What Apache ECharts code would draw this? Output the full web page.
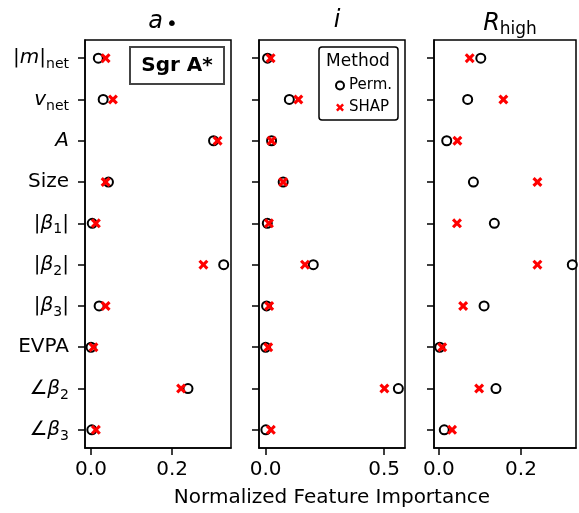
<!DOCTYPE html>
<html>
<head>
<meta charset="utf-8">
<script src="https://cdn.jsdelivr.net/npm/echarts@6/dist/echarts.min.js"></script>
<style>
  html, body { margin: 0; padding: 0; background: #fff; }
  #chart { width: 579px; height: 513px; }
</style>
</head>
<body>
<div id="chart"></div>
<script>
// feature labels, top to bottom (rich text)
const featureLabels = [
  "{n||}{i|m}{n||}{s|net}",
  "{i|v}{s|net}",
  "{i|A}",
  "{n|Size}",
  "{n||}{i|β}{s|1}{n||}",
  "{n||}{i|β}{s|2}{n||}",
  "{n||}{i|β}{s|3}{n||}",
  "{n|EVPA}",
  "{n|∠}{i|β}{s|2}",
  "{n|∠}{i|β}{s|3}"
];

// spin a
const permSpin = [0.018, 0.030, 0.302, 0.043, 0.003, 0.327, 0.020, 0.000, 0.239, 0.002];
const shapSpin = [0.036, 0.054, 0.312, 0.036, 0.012, 0.277, 0.036, 0.006, 0.222, 0.012];
// inclination i
const permInc = [0.008, 0.100, 0.025, 0.074, 0.007, 0.201, 0.004, 0.000, 0.560, 0.001];
const shapInc = [0.021, 0.138, 0.025, 0.074, 0.014, 0.166, 0.015, 0.011, 0.501, 0.022];
// R_high
const permRh = [0.102, 0.070, 0.019, 0.084, 0.135, 0.325, 0.110, 0.002, 0.139, 0.013];
const shapRh = [0.075, 0.157, 0.045, 0.240, 0.044, 0.240, 0.059, 0.008, 0.098, 0.032];

const xTicks = [[0, 0.2], [0, 0.5], [0, 0.2]];
const xRanges = [[-0.0148, 0.345], [-0.028, 0.588], [-0.012, 0.334]];

const panels = [
  { left: 85, width: 146, perm: permSpin, shap: shapSpin, title: "{i|a}{d|•}" },
  { left: 259, width: 146, perm: permInc, shap: shapInc, title: "{i|i}" },
  { left: 434, width: 142, perm: permRh, shap: shapRh, title: "{i|R}{s|high}" }
];

const font = "DejaVu Sans";
const xShape = "path://M0,2.2 L2.2,0 L5,2.8 L7.8,0 L10,2.2 L7.2,5 L10,7.8 L7.8,10 L5,7.2 L2.2,10 L0,7.8 L2.8,5 Z";

const labelRich = {
  n: { fontFamily: font, fontSize: 20, color: "#000" },
  i: { fontFamily: font, fontSize: 20, fontStyle: "italic", color: "#000" },
  s: { fontFamily: font, fontSize: 14, color: "#000", padding: [13, 0, 0, 0] }
};
const titleRich = {
  i: { fontFamily: font, fontSize: 24, fontStyle: "italic", fontWeight: "normal", color: "#000" },
  s: { fontFamily: font, fontSize: 17, fontWeight: "normal", color: "#000", padding: [12, 0, 0, 0] },
  d: { fontFamily: font, fontSize: 20, fontWeight: "normal", color: "#000", padding: [6, 0, 0, 3] }
};

const idx = featureLabels.map((_, k) => k);

const grid = [], xAxis = [], yAxis = [], series = [], title = [];
panels.forEach((p, g) => {
  grid.push({ left: p.left, top: 40, width: p.width, height: 408, show: true,
    borderColor: "#000", borderWidth: 1.5, backgroundColor: "transparent" });
  xAxis.push({
    type: "value", gridIndex: g, min: xRanges[g][0], max: xRanges[g][1],
    axisLine: { onZero: false, lineStyle: { color: "#000", width: 1.5 } },
    axisTick: { customValues: xTicks[g], length: 7, lineStyle: { color: "#000", width: 1.5 } },
    axisLabel: { customValues: xTicks[g], margin: 12, fontFamily: font, fontSize: 20, color: "#000",
      formatter: v => v.toFixed(1) },
    splitLine: { show: false }
  });
  yAxis.push({
    type: "value", gridIndex: g, inverse: true, min: -0.44, max: 9.44,
    axisLine: { onZero: false, lineStyle: { color: "#000", width: 1.5 } },
    axisTick: { customValues: idx, length: 7, lineStyle: { color: "#000", width: 1.5 } },
    axisLabel: { show: g === 0, customValues: idx, margin: 16, rich: labelRich,
      formatter: v => featureLabels[Math.round(v)] },
    splitLine: { show: false }
  });
  series.push({
    name: "Perm.", type: "scatter", xAxisIndex: g, yAxisIndex: g,
    symbol: "emptyCircle", symbolSize: 9,
    itemStyle: { color: "#000", borderColor: "#000", borderWidth: 2, opacity: 1 },
    data: p.perm.map((v, k) => [v, k])
  });
  series.push({
    name: "SHAP", type: "scatter", xAxisIndex: g, yAxisIndex: g,
    symbol: xShape, symbolSize: 10,
    itemStyle: { color: "#ff0000", opacity: 1 },
    data: p.shap.map((v, k) => [v, k])
  });
  title.push({
    text: p.title, left: p.left + p.width / 2, top: 4, textAlign: "center",
    textStyle: { fontWeight: "normal", rich: titleRich }
  });
});

const option = {
  animation: false,
  backgroundColor: "#fff",
  title: title,
  grid: grid,
  xAxis: xAxis,
  yAxis: yAxis,
  series: series,
  legend: {
    left: 330, top: 73, orient: "vertical", itemGap: 7, z: 20,
    itemWidth: 8, itemHeight: 8,
    textStyle: { fontFamily: font, fontSize: 15, color: "#000" },
    data: [
      { name: "Perm.", icon: "emptyCircle", itemStyle: { color: "#000", borderColor: "#000", borderWidth: 2 } },
      { name: "SHAP", icon: xShape, itemStyle: { color: "#ff0000" } }
    ]
  },
  graphic: [
    { type: "rect", shape: { x: 319, y: 47, width: 79, height: 73, r: 3 },
      style: { fill: "#fff", stroke: "#000", lineWidth: 1.5 }, z: 5 },
    { type: "text", x: 358, y: 62, z: 6,
      style: { text: "Method", fontFamily: font, fontSize: 17, fill: "#000", align: "center", verticalAlign: "middle" } },
    { type: "rect", shape: { x: 130, y: 47, width: 94, height: 37 },
      style: { fill: "#fff", stroke: "#444", lineWidth: 2 }, z: 5 },
    { type: "text", x: 177, y: 66, z: 6,
      style: { text: "Sgr A*", fontFamily: font, fontSize: 20, fontWeight: "bold", fill: "#000", align: "center", verticalAlign: "middle" } },
    { type: "text", x: 332, y: 498,
      style: { text: "Normalized Feature Importance", fontFamily: font, fontSize: 20, fill: "#000", align: "center", verticalAlign: "middle" } }
  ]
};

const chart = echarts.init(document.getElementById("chart"), null, { renderer: "canvas" });
chart.setOption(option);
</script>
</body>
</html>
